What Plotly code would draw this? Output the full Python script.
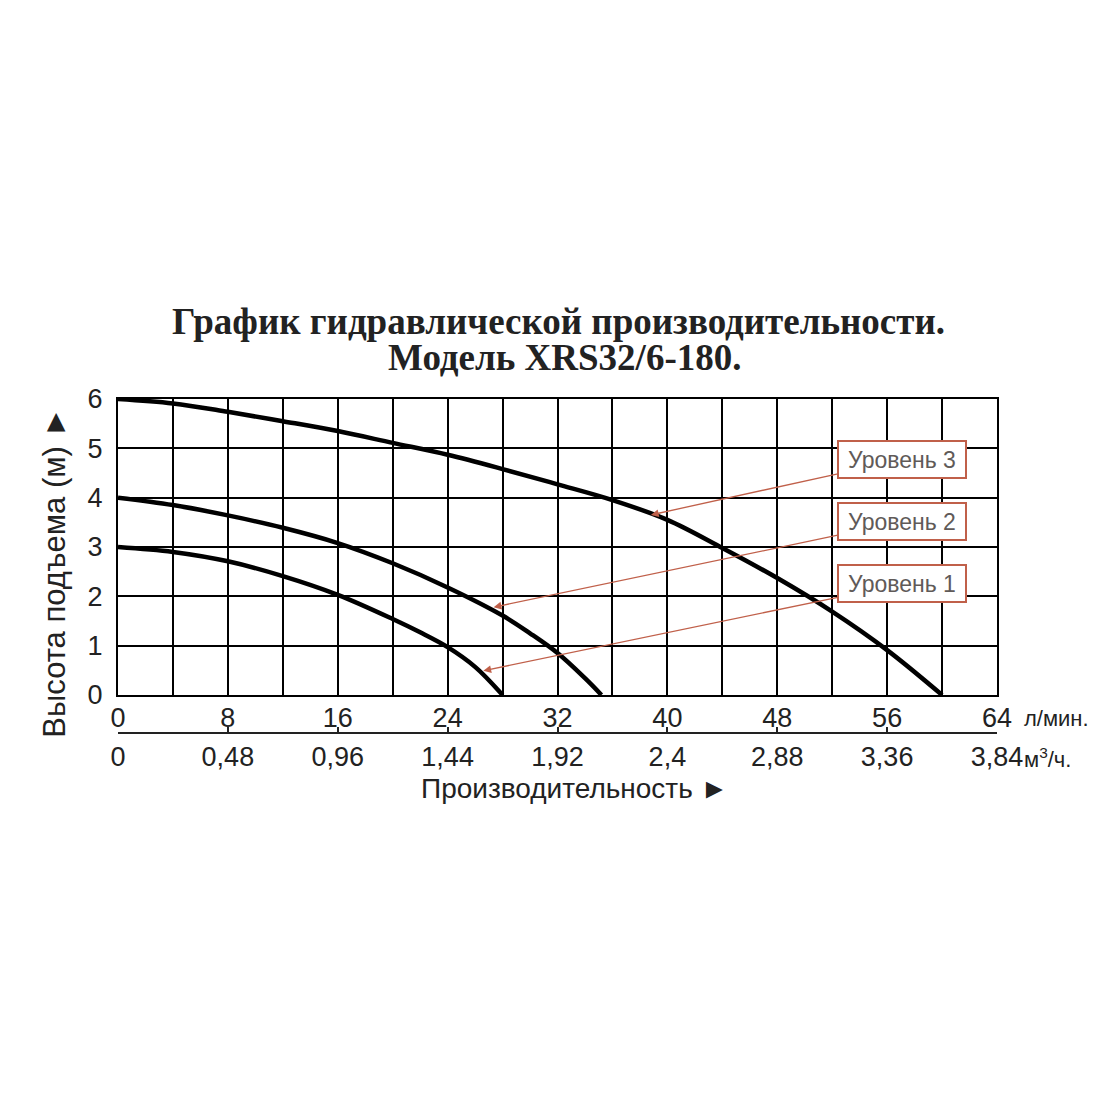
import plotly.graph_objects as go

# Pump curves (flow l/min -> head m)
level3_x = [0, 4, 8, 12, 16, 20, 24, 28, 32, 36, 40, 44, 48, 52, 56, 60]
level3_y = [6, 5.91, 5.74, 5.55, 5.35, 5.11, 4.87, 4.58, 4.27, 3.95, 3.55, 2.98, 2.37, 1.69, 0.91, 0]

level2_x = [0, 4, 8, 12, 16, 20, 24, 28, 30, 32, 34, 35.2]
level2_y = [4, 3.85, 3.64, 3.39, 3.08, 2.67, 2.18, 1.61, 1.25, 0.85, 0.34, 0]

level1_x = [0, 4, 8, 12, 16, 20, 22, 24, 26, 28]
level1_y = [3, 2.9, 2.71, 2.41, 2.03, 1.54, 1.27, 0.97, 0.57, 0]

# axis ticks
lmin_ticks = [0, 8, 16, 24, 32, 40, 48, 56, 64]
m3h_ticks = [0, 0.48, 0.96, 1.44, 1.92, 2.4, 2.88, 3.36, 3.84]
m3h_labels = ["0", "0,48", "0,96", "1,44", "1,92", "2,4", "2,88", "3,36", "3,84"]
head_ticks = [0, 1, 2, 3, 4, 5, 6]

level_names = ["Уровень 3", "Уровень 2", "Уровень 1"]

SANS = "Liberation Sans, Arial, sans-serif"
SERIF = "Liberation Serif, Times New Roman, serif"
RED = "#c0604a"
INK = "#222222"

fig = go.Figure()
for xs, ys in [(level3_x, level3_y), (level2_x, level2_y), (level1_x, level1_y)]:
    fig.add_trace(go.Scatter(x=xs, y=ys, mode="lines", line=dict(color="black", width=4.5, shape="spline"),
                             cliponaxis=False, showlegend=False, hoverinfo="skip"))

# empty trace so the m3/h axis gets drawn
fig.add_trace(go.Scatter(x=[0, 3.84], y=[None, None], xaxis="x2", showlegend=False, hoverinfo="skip"))

# label boxes and where their arrows point
box_pos = [(57.07, 4.77), (57.07, 3.51), (57.07, 2.25)]
arrow_to = [(38.8, 3.65), (27.35, 1.78), (26.6, 0.49)]
for name, (bx, by), (hx, hy) in zip(level_names, box_pos, arrow_to):
    fig.add_annotation(x=hx, y=hy, ax=bx, ay=by, xref="x", yref="y", axref="x", ayref="y",
                       text=name, showarrow=True, arrowhead=2, arrowsize=1.2, arrowwidth=1.3,
                       arrowcolor=RED, bgcolor="white", bordercolor=RED, borderwidth=2,
                       width=124, height=33, borderpad=1,
                       font=dict(family=SANS, size=23, color="#605a58"))


def label(text, x, y, size, family=SANS, xanchor="center", angle=0, yref="paper"):
    fig.add_annotation(text=text, xref="paper", yref=yref, x=x, y=y, xanchor=xanchor, yanchor="middle",
                       textangle=angle, showarrow=False, font=dict(family=family, size=size, color=INK))


# titles and unit labels
label("<b>График гидравлической производительности.</b>", 0.5017, 1.226, 37, family=SERIF)
label("<b>Модель XRS32/6-180.</b>", 0.5085, 1.123, 37, family=SERIF)
label("л/мин.", 1.028, 0.062, 22, xanchor="left")
label("м<sup>3</sup>/ч.", 1.029, -0.052, 22, xanchor="left")
label("Высота подъема (м) ►", -0.0717, 2.5, 31, angle=-90, yref="y")
label("Производительность ►", 0.519, -0.141, 28)

fig.update_layout(
    width=1100, height=1100,
    margin=dict(l=110, r=111, t=391, b=368),
    paper_bgcolor="white", plot_bgcolor="white",
    xaxis=dict(range=[0, 64], tickvals=lmin_ticks, showgrid=True, gridcolor="black", gridwidth=2,
               minor=dict(dtick=4, showgrid=True, gridcolor="black", gridwidth=2),
               showline=True, linecolor="black", linewidth=2, mirror=True, ticks="",
               ticklabelstandoff=-2, tickfont=dict(family=SANS, size=27, color=INK),
               zeroline=False),
    xaxis2=dict(range=[0, 3.84], tickvals=m3h_ticks, ticktext=m3h_labels, overlaying="x",
                anchor="free", position=0.0205, side="bottom", showgrid=False, zeroline=False,
                showline=True, linecolor=INK, linewidth=2, ticks="inside", ticklen=5,
                tickcolor=INK, tickwidth=2, tickfont=dict(family=SANS, size=27, color=INK)),
    yaxis=dict(range=[0, 6], tickvals=head_ticks, domain=[0.132, 1], showgrid=True,
               gridcolor="black", gridwidth=2, showline=True, linecolor="black", linewidth=2,
               mirror=True, ticks="", ticklabelstandoff=8, zeroline=False,
               tickfont=dict(family=SANS, size=27, color=INK)),
)

fig.write_html("out.html")
